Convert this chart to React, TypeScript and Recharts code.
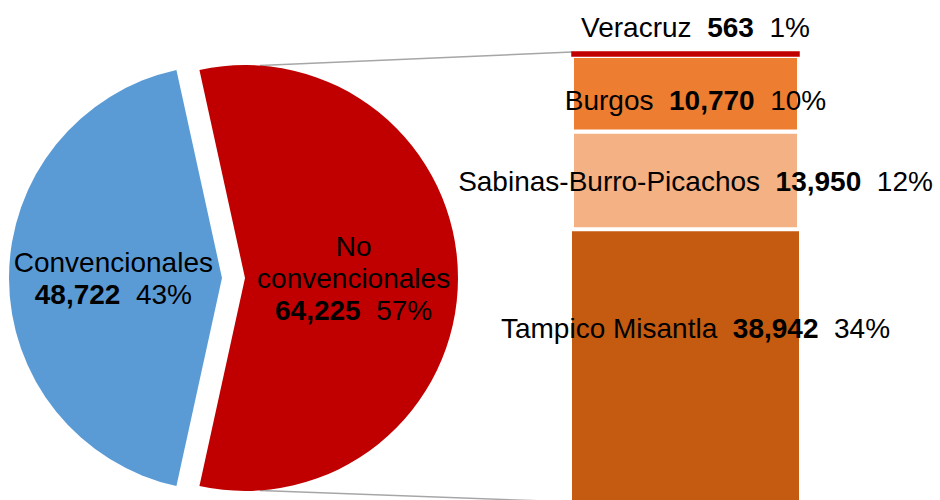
import { Bar, BarChart, Cell, LabelList, Pie, PieChart, XAxis, YAxis } from 'recharts'

// split of the total: conventional vs unconventional
const categories = ['Convencionales', 'No convencionales']
const categoryValues = [48722, 64225]
const categoryShares = [43, 57]
const pieColors = ['#5B9BD5', '#C00000']

// breakdown of "No convencionales" by region (bottom to top)
const regions = ['Tampico Misantla', 'Sabinas-Burro-Picachos', 'Burgos', 'Veracruz']
const regionValues = [38942, 13950, 10770, 563]
const regionShares = [34, 12, 10, 1]
const regionColors = ['#C55A11', '#F4B183', '#ED7D31', '#C00000']

const FONT = '"Liberation Sans", Arial, Helvetica, sans-serif'
const FONT_SIZE = 28
const GAP = '\u00a0\u00a0'

// layout
const PIE_CX = 233.5
const PIE_CY = 278
const PIE_R = 213
const EXPLODE = 11.5
const BAR_LEFT = 572
const BAR_RIGHT = 799
const BAR_TOP = 52
const BAR_BOTTOM = 502
// label baseline shift from the segment middle (Veracruz sits above the bar)
const REGION_LABEL_DY = [-28, 10.5, 16]
const RAD = Math.PI / 180

const total = categoryValues.reduce((a, b) => a + b, 0)
const pieData = categories.map((name, i) => ({ name, value: categoryValues[i], share: categoryShares[i] }))
const startAngle = 180 - (categoryValues[0] / total) * 180

const barRow: Record<string, number | string> = { name: categories[1] }
regions.forEach((r, i) => {
  barRow[r] = regionValues[i]
})
const regionTotal = regionValues.reduce((a, b) => a + b, 0)

const fmt = (v: number) => v.toLocaleString('en-US')

function pieLabel(shown: number) {
  return (props: any) => {
    if (props.index !== shown) return null
    const { cx, midAngle, outerRadius, name, value, payload } = props
    const x = cx + 0.51 * outerRadius * Math.cos(-midAngle * RAD)
    const y = PIE_CY - 0.51 * outerRadius * Math.sin(midAngle * RAD)
    const words = String(name).length > 15 ? String(name).split(' ') : [String(name)]
    const n = words.length + 1
    const lh = 32
    const base = (i: number) => y + 10 + (i - (n - 1) / 2) * lh
    return (
      <text x={x} y={base(0)} textAnchor="middle" fontFamily={FONT} fontSize={FONT_SIZE} fill="#000">
        {words.map((w, i) => (
          <tspan key={w} x={x} y={base(i)}>
            {w}
          </tspan>
        ))}
        <tspan x={x} y={base(n - 1)} fontWeight="bold">
          {fmt(Number(value))}
        </tspan>
        <tspan>{GAP + payload.share + '%'}</tspan>
      </text>
    )
  }
}

function regionLabel(i: number) {
  return (props: any) => {
    const x = Number(props.x)
    const y = Number(props.y)
    const w = Number(props.width)
    const h = Number(props.height)
    const cx = x + w / 2 + 10
    const top = Math.min(y, y + h)
    const baseline = i === regions.length - 1 ? top - 15 : top + Math.abs(h) / 2 + REGION_LABEL_DY[i]
    return (
      <text x={cx} y={baseline} textAnchor="middle" fontFamily={FONT} fontSize={FONT_SIZE} fill="#000">
        <tspan>{regions[i]}</tspan>
        <tspan fontWeight="bold">{GAP + fmt(regionValues[i])}</tspan>
        <tspan>{GAP + regionShares[i] + '%'}</tspan>
      </text>
    )
  }
}

function Connectors() {
  const redCx = PIE_CX + EXPLODE
  const a = 86 * RAD
  const sx = redCx + PIE_R * Math.cos(a)
  const syTop = PIE_CY - PIE_R * Math.sin(a)
  const syBottom = PIE_CY + PIE_R * Math.sin(a)
  return (
    <svg width={940} height={500} style={{ position: 'absolute', left: 0, top: 0 }}>
      <line x1={sx} y1={syTop} x2={BAR_LEFT} y2={BAR_TOP} stroke="#A6A6A6" strokeWidth={1.5} />
      <line x1={sx} y1={syBottom} x2={BAR_LEFT} y2={BAR_BOTTOM} stroke="#A6A6A6" strokeWidth={1.5} />
    </svg>
  )
}

export default function App() {
  return (
    <div
      style={{
        position: 'absolute',
        left: 0,
        top: 0,
        width: 940,
        height: 500,
        overflow: 'hidden',
        background: '#FFFFFF',
      }}
    >
      <Connectors />
      <div style={{ position: 'absolute', left: 0, top: 0 }}>
        <PieChart width={500} height={500} margin={{ top: 0, right: 0, bottom: 0, left: 0 }}>
          {categories.map((_, k) => (
            <Pie
              key={k}
              data={pieData}
              dataKey="value"
              nameKey="name"
              cx={PIE_CX + (k === 0 ? -EXPLODE : EXPLODE)}
              cy={PIE_CY}
              outerRadius={PIE_R}
              startAngle={startAngle}
              endAngle={startAngle + 360}
              stroke="none"
              label={pieLabel(k)}
              labelLine={false}
              isAnimationActive={false}
            >
              {pieData.map((d, i) => (
                <Cell key={d.name} fill={i === k ? pieColors[i] : 'transparent'} />
              ))}
            </Pie>
          ))}
        </PieChart>
      </div>
      <div style={{ position: 'absolute', left: 0, top: 0 }}>
        <BarChart
          width={940}
          height={510}
          data={[barRow]}
          barCategoryGap={0}
          margin={{ top: BAR_TOP, right: 940 - BAR_RIGHT, bottom: 510 - BAR_BOTTOM, left: BAR_LEFT }}
        >
          <XAxis dataKey="name" type="category" hide />
          <YAxis type="number" domain={[0, regionTotal]} hide />
          {regions.map((r, i) => (
            <Bar
              key={r}
              dataKey={r}
              stackId="nc"
              fill={regionColors[i]}
              stroke={i === 0 ? 'none' : i === regions.length - 1 ? regionColors[i] : '#FFFFFF'}
              strokeWidth={i === regions.length - 1 ? 1.5 : 4}
              isAnimationActive={false}
            >
              <LabelList dataKey={r} content={regionLabel(i)} />
            </Bar>
          ))}
        </BarChart>
      </div>
    </div>
  )
}
